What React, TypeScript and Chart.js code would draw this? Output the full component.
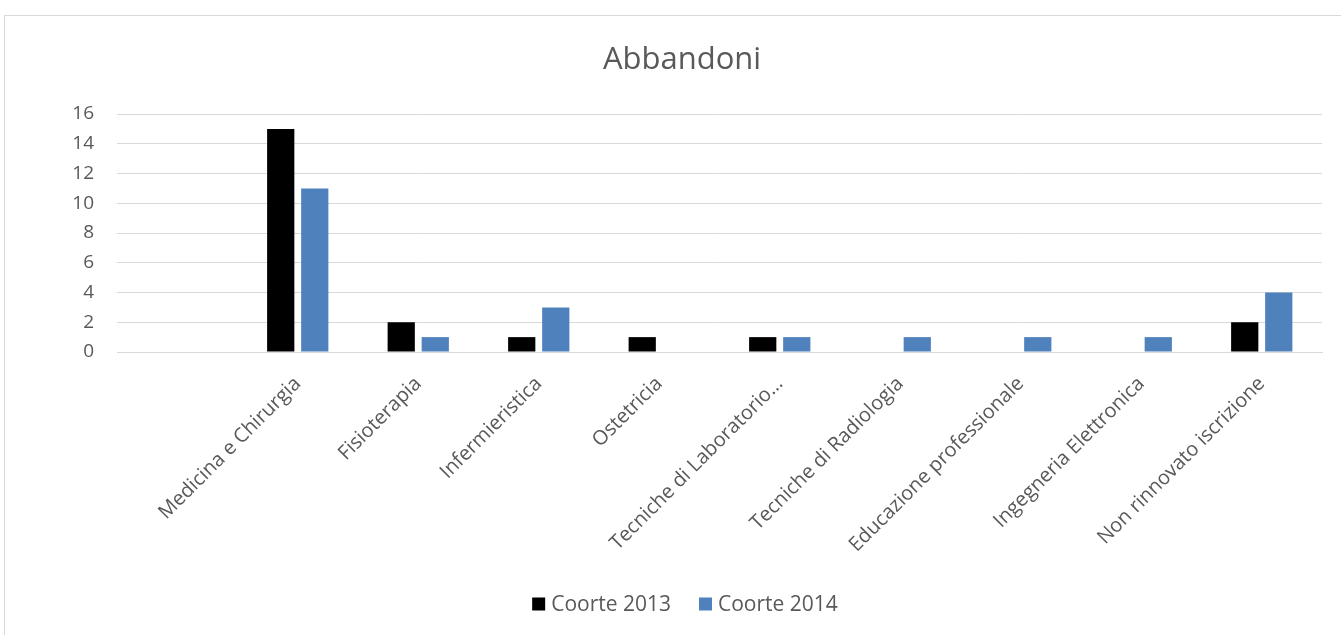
import React, { useEffect, useRef } from "react";
import { Chart, registerables } from "chart.js";

Chart.register(...registerables);

const chartTitle = "Abbandoni";
const categories = [
  "",
  "Medicina e Chirurgia",
  "Fisioterapia",
  "Infermieristica",
  "Ostetricia",
  "Tecniche di Laboratorio…",
  "Tecniche di Radiologia",
  "Educazione professionale",
  "Ingegneria Elettronica",
  "Non rinnovato iscrizione",
];
const coorte2013 = [null, 15, 2, 1, 1, 1, null, null, null, 2];
const coorte2014 = [null, 11, 1, 3, null, 1, 1, 1, 1, 4];
const seriesNames = ["Coorte 2013", "Coorte 2014"];
const seriesColors = ["#000000", "#4f81bd"];
const yTicks = { min: 0, max: 16, step: 2 };

const FONT = "'Open Sans', 'Liberation Sans', sans-serif";
const TEXT = "#595959";
const GRID = "#d9d9d9";

const titleAndLegend = {
  id: "titleAndLegend",
  afterDraw(chart: any) {
    const ctx = chart.ctx;
    const w = chart.width;
    ctx.save();
    ctx.fillStyle = TEXT;
    ctx.font = `31px ${FONT}`;
    ctx.textAlign = "center";
    ctx.textBaseline = "middle";
    ctx.fillText(chartTitle, w / 2 + 1, 44);

    // legend
    ctx.font = `21px ${FONT}`;
    ctx.textAlign = "left";
    const box = 13;
    const gapBoxText = 6;
    const gapItems = 28;
    const ds = chart.data.datasets;
    const widths = ds.map((d: any) => ctx.measureText(d.label).width);
    let total = 0;
    widths.forEach((tw: number, i: number) => {
      total += box + gapBoxText + tw + (i < widths.length - 1 ? gapItems : 0);
    });
    let x = w / 2 - total / 2 + 4;
    const cy = 588;
    ds.forEach((d: any, i: number) => {
      ctx.fillStyle = d.backgroundColor;
      ctx.fillRect(x, cy - box / 2, box, box);
      x += box + gapBoxText;
      ctx.fillStyle = TEXT;
      ctx.fillText(d.label, x, cy + 1);
      x += widths[i] + gapItems;
    });
    ctx.restore();
  },
};

export default function App() {
  const ref = useRef<HTMLCanvasElement | null>(null);

  useEffect(() => {
    if (!ref.current) return;
    const chart = new Chart(ref.current, {
      type: "bar",
      data: {
        labels: categories,
        datasets: [
          {
            label: seriesNames[0],
            data: coorte2013,
            backgroundColor: seriesColors[0],
            categoryPercentage: 0.565,
            barPercentage: 0.8,
          },
          {
            label: seriesNames[1],
            data: coorte2014,
            backgroundColor: seriesColors[1],
            categoryPercentage: 0.565,
            barPercentage: 0.8,
          },
        ],
      },
      options: {
        responsive: false,
        animation: false,
        layout: { padding: { top: 98, right: 35, left: 0, bottom: 0 } },
        plugins: {
          legend: { display: false },
          title: { display: false },
          tooltip: { enabled: false },
        },
        scales: {
          x: {
            grid: { display: false, drawTicks: false },
            border: { display: true, color: GRID, width: 1 },
            ticks: {
              autoSkip: false,
              maxRotation: 45,
              minRotation: 45,
              padding: 20,
              color: TEXT,
              font: { family: FONT, size: 20 },
            },
            afterFit(scale: any) {
              scale.height = 284;
            },
          },
          y: {
            min: yTicks.min,
            max: yTicks.max,
            grid: { color: GRID, lineWidth: 1, drawTicks: false },
            border: { display: false },
            ticks: {
              stepSize: yTicks.step,
              padding: 23,
              color: TEXT,
              font: { family: FONT, size: 19 },
            },
            afterFit(scale: any) {
              scale.width = 112;
            },
          },
        },
      },
      plugins: [titleAndLegend],
    });
    return () => chart.destroy();
  }, []);

  return (
    <div style={{ position: "fixed", inset: 0, overflow: "hidden", background: "#fff" }}>
      <div
        style={{
          position: "absolute",
          left: 4,
          top: 15,
          width: 1354,
          height: 640,
          border: "1px solid #d9d9d9",
          boxSizing: "border-box",
        }}
      >
        <canvas ref={ref} width={1352} height={620} style={{ display: "block" }} />
      </div>
    </div>
  );
}
